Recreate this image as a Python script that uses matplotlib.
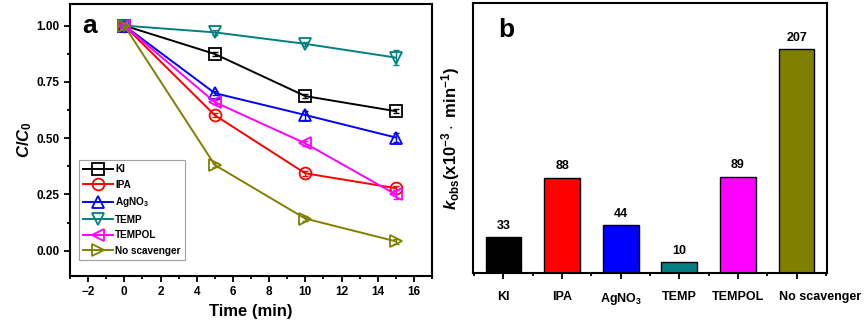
import matplotlib
matplotlib.use("Agg")
import matplotlib.pyplot as plt
from matplotlib.ticker import MultipleLocator, NullLocator, FormatStrFormatter
from matplotlib.transforms import ScaledTranslation

plt.rcParams['font.family'] = ['Liberation Sans', 'DejaVu Sans']
plt.rcParams['font.weight'] = 'bold'
plt.rcParams['mathtext.fontset'] = 'custom'
plt.rcParams['mathtext.rm'] = 'Liberation Sans:bold'
plt.rcParams['mathtext.it'] = 'Liberation Sans:italic:bold'
plt.rcParams['mathtext.bf'] = 'Liberation Sans:bold'
plt.rcParams['mathtext.default'] = 'rm'

# ---- data ----
time = [0, 5, 10, 15]
series_names = ["KI", "IPA", r"AgNO$_3$", "TEMP", "TEMPOL", "No scavenger"]
ki = [1.0, 0.874, 0.687, 0.620]
ipa = [1.0, 0.602, 0.344, 0.278]
agno3 = [1.0, 0.700, 0.603, 0.503]
temp = [1.0, 0.970, 0.919, 0.858]
tempol = [1.0, 0.660, 0.477, 0.250]
noscav = [1.0, 0.381, 0.143, 0.042]
err_ki = [0.0, 0.01, 0.01, 0.01]
err_ipa = [0.0, 0.01, 0.01, 0.01]
err_agno3 = [0.0, 0.01, 0.02, 0.02]
err_temp = [0.0, 0.01, 0.01, 0.035]
err_tempol = [0.0, 0.01, 0.01, 0.02]
err_noscav = [0.0, 0.01, 0.01, 0.01]

bar_labels = ["KI", "IPA", r"AgNO$_3$", "TEMP", "TEMPOL", "No scavenger"]
kobs = [33, 88, 44, 10, 89, 207]

colors = ["#000000", "#FF0000", "#0000FF", "#008080", "#FF00FF", "#808000"]
markers = ["s", "o", "^", "v", "<", ">"]

W, H = 864, 326
fig = plt.figure(figsize=(W / 100, H / 100), dpi=100)

# ---- panel a ----
axa = fig.add_axes([70 / W, (H - 276) / H, (432 - 70) / W, (276 - 4) / H])
all_y = [ki, ipa, agno3, temp, tempol, noscav]
all_e = [err_ki, err_ipa, err_agno3, err_temp, err_tempol, err_noscav]
for name, y, e, c, m in zip(series_names, all_y, all_e, colors, markers):
    axa.errorbar(time, y, yerr=e, color=c, fmt='none', capsize=2, elinewidth=1.0)
    axa.plot(time, y, color=c, marker=m, markersize=8.5,
             markerfacecolor='none', markeredgewidth=1.3, linewidth=1.4,
             label=name)
axa.set_xlim(-3, 17)
axa.set_ylim(-0.112, 1.096)
axa.xaxis.set_major_locator(MultipleLocator(2))
axa.xaxis.set_minor_locator(MultipleLocator(1))
axa.yaxis.set_major_locator(MultipleLocator(0.25))
axa.yaxis.set_minor_locator(MultipleLocator(0.125))
axa.yaxis.set_major_formatter(FormatStrFormatter('%.2f'))
axa.tick_params(which='both', direction='out', top=False, right=False,
                labelsize=8.5, width=1.3)
axa.tick_params(which='major', length=4)
axa.tick_params(which='minor', length=2.5)
for s in axa.spines.values():
    s.set_linewidth(1.5)
axa.set_xlabel("Time (min)", fontsize=12, fontweight='bold', labelpad=4)
axa.set_ylabel(r"$\mathit{C/C}_\mathit{0}$", fontsize=12, labelpad=2)
axa.text(0.035, 0.92, "a", transform=axa.transAxes, fontsize=19,
         fontweight='bold', va='center', ha='left')
leg = axa.legend(loc='lower left', bbox_to_anchor=(0.025, 0.06), fontsize=7.2,
                 frameon=True, fancybox=False, edgecolor='#888888',
                 handlelength=3.0, handletextpad=0.2, borderpad=0.4,
                 labelspacing=0.55, borderaxespad=0)
leg.get_frame().set_linewidth(0.8)

# ---- panel b ----
axb = fig.add_axes([473 / W, (H - 273) / H, (827 - 473) / W, (273 - 3) / H])
xpos = list(range(len(kobs)))
axb.bar(xpos, kobs, width=0.61, color=colors, edgecolor='black', linewidth=1.0)
for x, v in zip(xpos, kobs):
    axb.text(x, v + 5, str(v), ha='center', va='bottom', fontsize=9, fontweight='bold')
axb.set_xlim(-0.52, 5.52)
axb.set_ylim(0, 249.5)
axb.set_xticks(xpos)
axb.set_xticklabels(bar_labels)
axb.xaxis.set_minor_locator(MultipleLocator(0.5, offset=0.5))
axb.yaxis.set_major_locator(NullLocator())
axb.tick_params(axis='x', which='major', direction='out', length=4, width=1.3,
                labelsize=9, pad=9)
axb.tick_params(axis='x', which='minor', direction='out', length=2.5, width=1.3)
for s in axb.spines.values():
    s.set_linewidth(1.5)
last = axb.get_xticklabels()[-1]
last.set_transform(last.get_transform() + ScaledTranslation(0.24, 0, fig.dpi_scale_trans))
axb.set_ylabel(r"$\mathit{k}_{\mathrm{obs}}(\mathrm{x10^{-3}\cdot\ min^{-1}})$", fontsize=12, labelpad=8)
axb.text(0.07, 0.9, "b", transform=axb.transAxes, fontsize=19,
         fontweight='bold', va='center', ha='left')

fig.savefig("out.png", dpi=100)
